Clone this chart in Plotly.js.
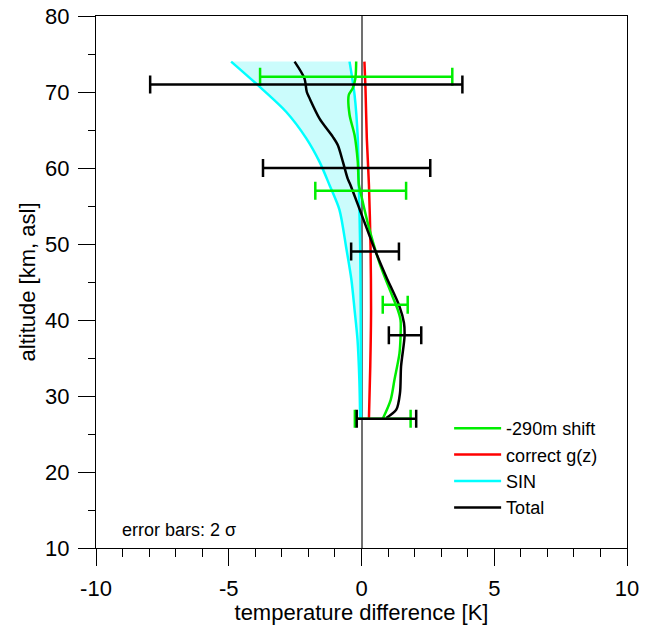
<!DOCTYPE html>
<html>
<head>
<meta charset="utf-8">
<script src="https://cdn.plot.ly/plotly-3.0.1.min.js"></script>
<style>html,body{margin:0;padding:0;background:#fff;}#chart{width:653px;height:625px;}</style>
</head>
<body>
<div id="chart"></div>
<script>
// -290m shift (green)
const shiftAlt  = [74, 71.8, 70.5, 69.6, 67.0, 64.3, 60.8, 57.8, 56.7, 52.7, 47.5, 43.5, 41.3, 40.0, 37.8, 35.6, 32.1, 29.5, 27];
const shiftTemp = [-0.2, -0.23, -0.33, -0.48, -0.45, -0.26, -0.14, -0.1, -0.03, 0.24, 0.68, 1.12, 1.37, 1.47, 1.47, 1.43, 1.24, 1.1, 0.8];
// correct g(z) (red)
const gAlt  = [74, 70.5, 63.9, 57.8, 49.6, 41.3, 33.9, 27];
const gTemp = [0.11, 0.15, 0.2, 0.28, 0.34, 0.36, 0.33, 0.28];
// SIN band (cyan)
const sinOuterAlt  = [74, 70.7, 67.4, 63.9, 60.8, 57.8, 54.5, 49.6, 45.3, 41.3, 37.4, 32, 27];
const sinOuterTemp = [-4.91, -3.84, -2.84, -2.08, -1.58, -1.21, -0.83, -0.58, -0.38, -0.26, -0.15, -0.08, -0.05];
const sinInnerAlt  = [74, 69.6, 63.9, 57.8, 49.6, 41, 27];
const sinInnerTemp = [-0.45, -0.26, -0.14, -0.1, -0.05, -0.03, -0.02];
// Total (black)
const totalAlt  = [74, 71.8, 70.0, 69.2, 66.5, 64.1, 63.0, 60.8, 58.6, 57.8, 54.0, 49.0, 45.7, 41.8, 39.6, 37.8, 33.9, 30.4, 28.2, 27.1];
const totalTemp = [-2.52, -2.15, -2.06, -1.96, -1.58, -1.08, -0.89, -0.70, -0.52, -0.42, -0.01, 0.53, 0.93, 1.43, 1.6, 1.62, 1.49, 1.45, 1.31, 0.93];
// error bars (2 sigma)
const shiftErrAlt    = [72, 57, 42, 27];
const shiftErrCenter = [-0.2, -0.03, 1.27, 0.8];
const shiftErrHalf   = [3.62, 1.71, 0.47, 1.05];
const totalErrAlt    = [71, 60, 49, 38, 27];
const totalErrCenter = [-2.08, -0.56, 0.51, 1.64, 0.94];
const totalErrHalf   = [5.88, 3.15, 0.9, 0.61, 1.12];

const GREEN = '#00ee00', RED = '#ff0000', CYAN = '#00ffff', BLACK = '#000000';
const LW = 2.5;
const SM = 0.8;

const traces = [
  {x: sinOuterTemp, y: sinOuterAlt, mode: 'lines', line: {color: CYAN, width: LW, shape: 'spline', smoothing: SM}, name: 'SIN', legendrank: 3},
  {x: sinInnerTemp, y: sinInnerAlt, mode: 'lines', line: {color: CYAN, width: LW, shape: 'spline', smoothing: SM}, fill: 'tonextx', fillcolor: 'rgba(160,250,250,0.55)', showlegend: false, hoverinfo: 'skip'},
  {x: gTemp, y: gAlt, mode: 'lines', line: {color: RED, width: LW, shape: 'spline', smoothing: SM}, name: 'correct g(z)', legendrank: 2},
  {x: shiftTemp, y: shiftAlt, mode: 'lines', line: {color: GREEN, width: LW, shape: 'spline', smoothing: SM}, name: '-290m shift', legendrank: 1},
  {x: totalTemp, y: totalAlt, mode: 'lines', line: {color: BLACK, width: LW, shape: 'spline', smoothing: SM}, name: 'Total', legendrank: 4},
  {x: shiftErrCenter, y: shiftErrAlt, mode: 'markers', marker: {size: 1, opacity: 0}, showlegend: false, hoverinfo: 'skip',
   error_x: {type: 'data', array: shiftErrHalf, symmetric: true, color: GREEN, thickness: 2.5, width: 9}},
  {x: totalErrCenter, y: totalErrAlt, mode: 'markers', marker: {size: 1, opacity: 0}, showlegend: false, hoverinfo: 'skip',
   error_x: {type: 'data', array: totalErrHalf, symmetric: true, color: BLACK, thickness: 2.5, width: 9}}
];

const FONT = 'Liberation Sans, Arial, sans-serif';
const layout = {
  width: 653, height: 625,
  margin: {l: 96, r: 26, t: 16, b: 77, pad: 0},
  paper_bgcolor: '#fff', plot_bgcolor: '#fff',
  font: {family: FONT, size: 22, color: '#000'},
  showlegend: true,
  legend: {x: 0.665, y: 0.2594, xanchor: 'left', yanchor: 'top', traceorder: 'normal', itemwidth: 47,
           bgcolor: 'rgba(0,0,0,0)', font: {size: 18, family: FONT}, tracegroupgap: 0},
  xaxis: {
    range: [-10, 10], tickvals: [-10, -5, 0, 5, 10], ticktext: ['-10', '-5', '0', '5', '10'],
    ticks: 'outside', ticklen: 17, tickwidth: 1, tickcolor: '#000',
    minor: {dtick: 1, ticks: 'outside', ticklen: 8, tickcolor: '#000', tickwidth: 1, showgrid: false},
    showline: true, linecolor: '#000', linewidth: 1, mirror: true,
    showgrid: false, zeroline: true, zerolinecolor: '#707070', zerolinewidth: 2,
    ticklabelstandoff: 4,
    title: {text: 'temperature difference [K]', font: {size: 22}, standoff: 6}
  },
  yaxis: {
    range: [10, 80], tickvals: [10, 20, 30, 40, 50, 60, 70, 80],
    ticks: 'outside', ticklen: 17, tickwidth: 1, tickcolor: '#000',
    minor: {dtick: 5, ticks: 'outside', ticklen: 7, tickcolor: '#000', tickwidth: 1, showgrid: false},
    showline: true, linecolor: '#000', linewidth: 1, mirror: true,
    showgrid: false, zeroline: false,
    ticklabelstandoff: 4,
    title: {text: 'altitude [km, asl]', font: {size: 22}, standoff: 3}
  },
  annotations: [
    {xref: 'paper', yref: 'paper', x: 0.045, y: 0.033, xanchor: 'left', yanchor: 'middle',
     text: 'error bars: 2 σ', showarrow: false, font: {size: 18, family: FONT}}
  ]
};

Plotly.newPlot('chart', traces, layout, {displayModeBar: false, staticPlot: true});
</script>
</body>
</html>
